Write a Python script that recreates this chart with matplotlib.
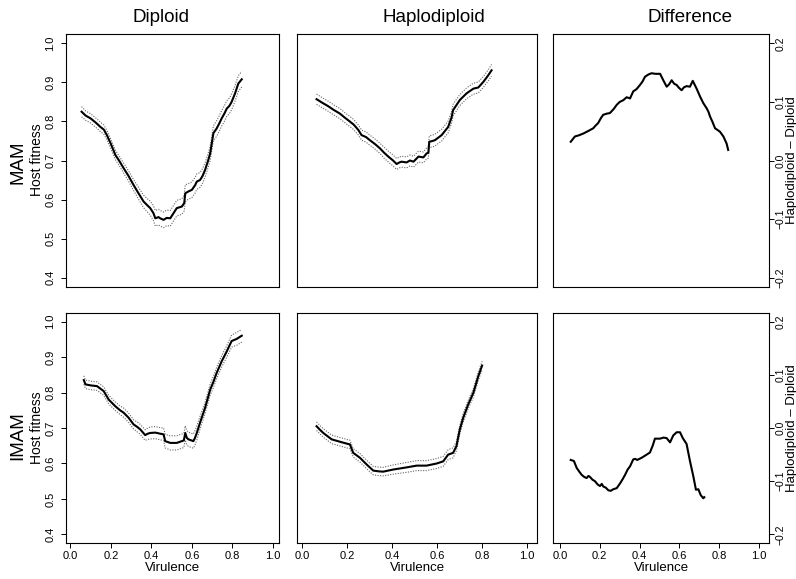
import matplotlib
matplotlib.use("Agg")
import matplotlib.pyplot as plt

plt.rcParams['font.family'] = ['Liberation Sans', 'DejaVu Sans']

# ---- data ----
col_titles = ["Diploid", "Haplodiploid", "Difference"]
row_titles = ["MAM", "IMAM"]
x_ticks = [0.0, 0.2, 0.4, 0.6, 0.8, 1.0]
fit_ticks = [0.4, 0.5, 0.6, 0.7, 0.8, 0.9, 1.0]
diff_ticks = [-0.2, -0.1, 0.0, 0.1, 0.2]
diff_labels = ["\u22120.2", "\u22120.1", "0.0", "0.1", "0.2"]

dip_mam_x = [0.055, 0.075, 0.099, 0.125, 0.148, 0.165, 0.18, 0.2, 0.222, 0.24,
             0.263, 0.285, 0.312, 0.335, 0.361, 0.38, 0.394, 0.41, 0.419, 0.435,
             0.443, 0.46, 0.475, 0.493, 0.509, 0.525, 0.55, 0.562, 0.567, 0.58,
             0.6, 0.616, 0.624, 0.64, 0.652, 0.665, 0.68, 0.69, 0.706, 0.722,
             0.735, 0.747, 0.76, 0.772, 0.785, 0.796, 0.813, 0.829, 0.846]
dip_mam_y = [0.825, 0.815, 0.808, 0.797, 0.786, 0.779, 0.765, 0.742, 0.714, 0.70,
             0.68, 0.662, 0.637, 0.617, 0.595, 0.585, 0.578, 0.565, 0.552, 0.555,
             0.552, 0.548, 0.553, 0.552, 0.565, 0.578, 0.582, 0.591, 0.616, 0.62,
             0.625, 0.637, 0.646, 0.65, 0.66, 0.676, 0.70, 0.718, 0.77, 0.782,
             0.795, 0.808, 0.82, 0.833, 0.84, 0.85, 0.872, 0.897, 0.908]
dip_mam_hw = [0.013, 0.012, 0.012, 0.012, 0.012, 0.012, 0.012, 0.012, 0.012, 0.012,
              0.013, 0.013, 0.014, 0.015, 0.016, 0.017, 0.018, 0.019, 0.02, 0.02,
              0.02, 0.02, 0.02, 0.02, 0.02, 0.02, 0.02, 0.02, 0.022, 0.02,
              0.02, 0.02, 0.02, 0.019, 0.019, 0.018, 0.018, 0.018, 0.019, 0.02,
              0.02, 0.02, 0.02, 0.02, 0.02, 0.02, 0.02, 0.02, 0.02]

hap_mam_x = [0.065, 0.09, 0.117, 0.14, 0.169, 0.19, 0.206, 0.23, 0.251, 0.265,
             0.285, 0.302, 0.325, 0.347, 0.365, 0.384, 0.405, 0.421, 0.433, 0.443,
             0.465, 0.48, 0.496, 0.518, 0.54, 0.554, 0.562, 0.566, 0.58, 0.591,
             0.621, 0.65, 0.665, 0.672, 0.702, 0.732, 0.762, 0.784, 0.806, 0.828,
             0.843]
hap_mam_y = [0.857, 0.848, 0.839, 0.83, 0.82, 0.81, 0.803, 0.792, 0.778, 0.765,
             0.76, 0.752, 0.742, 0.731, 0.72, 0.71, 0.70, 0.691, 0.695, 0.697,
             0.695, 0.70, 0.697, 0.71, 0.708, 0.718, 0.72, 0.748, 0.75, 0.752,
             0.765, 0.786, 0.81, 0.829, 0.855, 0.872, 0.884, 0.887, 0.901, 0.918,
             0.931]
hap_mam_hw = [0.013, 0.013, 0.013, 0.013, 0.013, 0.013, 0.013, 0.013, 0.013, 0.013,
              0.013, 0.013, 0.013, 0.013, 0.014, 0.014, 0.014, 0.014, 0.014, 0.014,
              0.014, 0.014, 0.014, 0.014, 0.014, 0.014, 0.014, 0.015, 0.015, 0.015,
              0.015, 0.015, 0.015, 0.015, 0.014, 0.014, 0.014, 0.014, 0.014, 0.014,
              0.015]

diff_mam_x = [0.054, 0.075, 0.095, 0.117, 0.14, 0.167, 0.18, 0.192, 0.205, 0.217,
              0.235, 0.251, 0.27, 0.285, 0.3, 0.318, 0.335, 0.352, 0.368, 0.385,
              0.402, 0.415, 0.427, 0.445, 0.46, 0.48, 0.503, 0.519, 0.536, 0.548,
              0.561, 0.574, 0.586, 0.598, 0.611, 0.623, 0.636, 0.653, 0.667, 0.686,
              0.704, 0.72, 0.737, 0.746, 0.754, 0.766, 0.779, 0.792, 0.804, 0.821,
              0.837, 0.845]
diff_mam_y = [0.032, 0.041, 0.043, 0.046, 0.05, 0.055, 0.06, 0.064, 0.072, 0.078,
              0.08, 0.081, 0.088, 0.095, 0.1, 0.103, 0.108, 0.106, 0.118, 0.122,
              0.129, 0.135, 0.143, 0.147, 0.149, 0.148, 0.148, 0.137, 0.126, 0.13,
              0.137, 0.131, 0.129, 0.124, 0.12, 0.125, 0.127, 0.126, 0.136, 0.123,
              0.109, 0.098, 0.089, 0.083, 0.075, 0.066, 0.055, 0.052, 0.049, 0.041,
              0.029, 0.018]

dip_imam_x = [0.066, 0.074, 0.1, 0.131, 0.164, 0.189, 0.222, 0.245, 0.263, 0.287,
              0.312, 0.33, 0.345, 0.369, 0.382, 0.394, 0.419, 0.443, 0.46, 0.468,
              0.493, 0.525, 0.55, 0.56, 0.567, 0.575, 0.583, 0.607, 0.615, 0.624,
              0.64, 0.665, 0.69, 0.706, 0.722, 0.747, 0.772, 0.796, 0.821, 0.846]
dip_imam_y = [0.835, 0.823, 0.82, 0.818, 0.804, 0.78, 0.761, 0.75, 0.743, 0.729,
              0.71, 0.703, 0.696, 0.68, 0.684, 0.686, 0.687, 0.684, 0.682, 0.663,
              0.658, 0.658, 0.663, 0.665, 0.686, 0.672, 0.668, 0.663, 0.672, 0.686,
              0.715, 0.757, 0.808, 0.83, 0.855, 0.888, 0.916, 0.945, 0.951, 0.96]
dip_imam_hw = [0.012, 0.012, 0.012, 0.012, 0.012, 0.012, 0.012, 0.012, 0.013, 0.013,
               0.013, 0.014, 0.014, 0.015, 0.016, 0.017, 0.017, 0.017, 0.018, 0.019,
               0.02, 0.02, 0.02, 0.02, 0.02, 0.02, 0.02, 0.02, 0.02, 0.02,
               0.018, 0.016, 0.016, 0.016, 0.016, 0.016, 0.016, 0.017, 0.018, 0.018]

hap_imam_x = [0.065, 0.08, 0.095, 0.132, 0.176, 0.205, 0.213, 0.228, 0.258, 0.288,
              0.317, 0.34, 0.361, 0.406, 0.465, 0.51, 0.554, 0.599, 0.628, 0.65,
              0.672, 0.687, 0.695, 0.702, 0.717, 0.739, 0.762, 0.784, 0.801]
hap_imam_y = [0.705, 0.695, 0.686, 0.668, 0.66, 0.655, 0.654, 0.63, 0.616, 0.597,
              0.58, 0.578, 0.577, 0.583, 0.589, 0.594, 0.594, 0.6, 0.606, 0.625,
              0.63, 0.649, 0.675, 0.696, 0.729, 0.766, 0.799, 0.846, 0.876]
hap_imam_hw = [0.012, 0.012, 0.012, 0.012, 0.012, 0.012, 0.012, 0.012, 0.012, 0.012,
               0.012, 0.012, 0.012, 0.013, 0.014, 0.014, 0.014, 0.014, 0.014, 0.014,
               0.014, 0.013, 0.013, 0.012, 0.012, 0.012, 0.012, 0.012, 0.012]

diff_imam_x = [0.054, 0.07, 0.084, 0.097, 0.109, 0.122, 0.134, 0.143, 0.151, 0.163,
               0.176, 0.189, 0.201, 0.21, 0.218, 0.23, 0.243, 0.255, 0.268, 0.285,
               0.302, 0.315, 0.327, 0.34, 0.352, 0.368, 0.378, 0.388, 0.41, 0.427,
               0.452, 0.466, 0.477, 0.503, 0.52, 0.536, 0.553, 0.569, 0.586, 0.603,
               0.617, 0.636, 0.653, 0.67, 0.683, 0.695, 0.707, 0.72, 0.725]
diff_imam_y = [-0.06, -0.062, -0.075, -0.082, -0.088, -0.092, -0.094, -0.09, -0.092, -0.097,
               -0.1, -0.106, -0.109, -0.105, -0.11, -0.112, -0.117, -0.118, -0.115, -0.113,
               -0.104, -0.096, -0.088, -0.078, -0.072, -0.059, -0.058, -0.06, -0.056, -0.052,
               -0.046, -0.033, -0.02, -0.02, -0.018, -0.019, -0.027, -0.014, -0.008, -0.008,
               -0.019, -0.03, -0.062, -0.091, -0.116, -0.115, -0.126, -0.132, -0.13]

fit_data = [[(dip_mam_x, dip_mam_y, dip_mam_hw), (hap_mam_x, hap_mam_y, hap_mam_hw)],
            [(dip_imam_x, dip_imam_y, dip_imam_hw), (hap_imam_x, hap_imam_y, hap_imam_hw)]]
diff_data = [(diff_mam_x, diff_mam_y), (diff_imam_x, diff_imam_y)]

# ---- layout (pixel boxes of the panels) ----
W, H = 796, 579
col_px = [(66, 279), (297, 537), (553, 769)]
row_px = [(34, 287), (313, 543)]
col_xlim = [(-0.022, 1.03), (-0.022, 1.045), (-0.035, 1.05)]

fig = plt.figure(figsize=(W / 100, H / 100), dpi=100)


def box(c, r):
    x0, x1 = col_px[c]
    y0, y1 = row_px[r]
    return [x0 / W, 1 - y1 / H, (x1 - x0) / W, (y1 - y0) / H]


for r in range(2):
    for c in range(3):
        ax = fig.add_axes(box(c, r))
        for sp in ax.spines.values():
            sp.set_linewidth(0.8)
        ax.set_xlim(col_xlim[c])
        ax.tick_params(direction='out', length=3.8, width=0.7, labelsize=8)

        if c < 2:
            xs, ys, hw = fit_data[r][c]
            lo = [y - h for y, h in zip(ys, hw)]
            hi = [y + h for y, h in zip(ys, hw)]
            ax.plot(xs, hi, color='0.4', lw=0.8, ls=(0, (1, 1.3)))
            ax.plot(xs, lo, color='0.4', lw=0.8, ls=(0, (1, 1.3)))
            ax.plot(xs, ys, color='black', lw=1.5)
            ax.set_ylim(0.376, 1.024)
            if c == 0:
                ax.set_yticks(fit_ticks)
                ax.set_yticklabels(["%.1f" % v for v in fit_ticks])
                ax.tick_params(axis='y', labelrotation=90, pad=4)
                for lab in ax.get_yticklabels():
                    lab.set_va('center')
            else:
                ax.set_yticks([])
        else:
            xs, ys = diff_data[r]
            ax.plot(xs, ys, color='black', lw=1.5)
            ax.set_ylim(-0.216, 0.216)
            ax.yaxis.tick_right()
            ax.set_yticks(diff_ticks)
            ax.set_yticklabels(diff_labels)
            ax.tick_params(axis='y', labelrotation=90, pad=1, labelsize=7.5)
            for lab in ax.get_yticklabels():
                lab.set_va('center')

        if r == 1:
            ax.set_xticks(x_ticks)
            ax.set_xticklabels(["%.1f" % v for v in x_ticks])
            ax.tick_params(axis='x', pad=2)
            ax.set_xlabel("Virulence", fontsize=9.5, labelpad=1)
        else:
            ax.set_xticks([])

# column titles
title_x = [161, 434, 690]
for t, xp in zip(col_titles, title_x):
    fig.text(xp / W, 1 - 17 / H, t, ha='center', va='center', fontsize=13.5)

# row labels
row_lab_y = [162, 436]
host_lab_y = [160, 428]
for r in range(2):
    fig.text(18 / W, 1 - row_lab_y[r] / H, row_titles[r], rotation=90,
             ha='center', va='center', fontsize=13.5)
    fig.text(37 / W, 1 - host_lab_y[r] / H, "Host fitness", rotation=90,
             ha='center', va='center', fontsize=10)
    fig.text(791.5 / W, 1 - host_lab_y[r] / H, "Haplodiploid \u2013 Diploid", rotation=90,
             ha='center', va='center', fontsize=9.5)

fig.savefig("out.png", dpi=100)
